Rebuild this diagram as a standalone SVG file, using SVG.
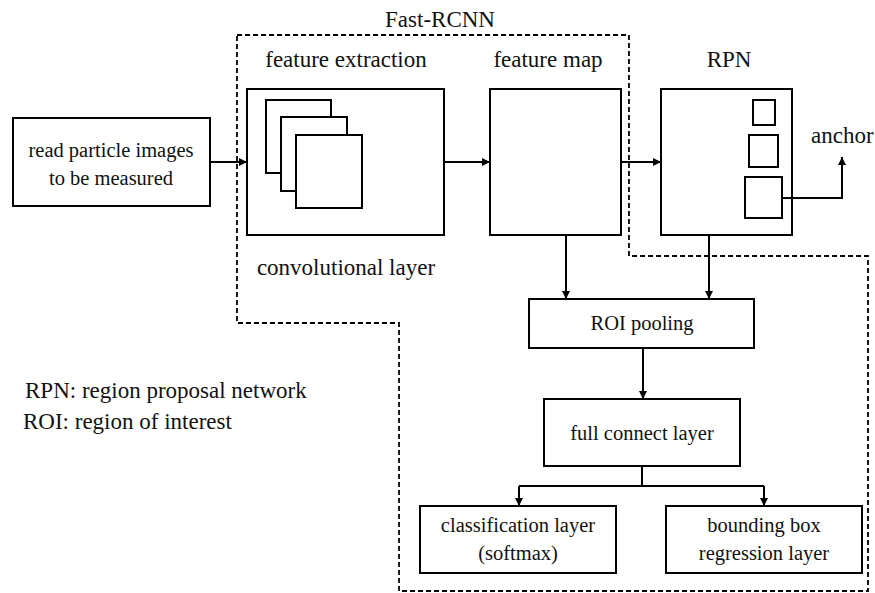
<svg xmlns="http://www.w3.org/2000/svg" width="875" height="593" viewBox="0 0 875 593">
<style>
.box{fill:#fff;stroke:#000;stroke-width:2}
.t{font-family:"Liberation Serif","Times New Roman",serif;font-size:20.5px;fill:#111;text-anchor:middle}
.h{font-family:"Liberation Serif","Times New Roman",serif;font-size:23px;fill:#111}
.c{text-anchor:middle}
.ln{fill:none;stroke:#000;stroke-width:2}
.dash{fill:none;stroke:#000;stroke-width:1.8;stroke-dasharray:5 3}
</style>
<defs>
<marker id="ah" viewBox="0 0 10 10" refX="10" refY="5" markerWidth="9" markerHeight="8" markerUnits="userSpaceOnUse" orient="auto">
<path d="M0,0 L10,5 L0,10 z" fill="#000"/>
</marker>
</defs>
<rect width="875" height="593" fill="#fff"/>
<g id="fast-rcnn">
<path class="dash" d="M237,35 H629 V256 H868 V591 H399 V323 H237 Z"/>
<text class="h c" x="440" y="27">Fast-RCNN</text>
</g>
<g id="input">
<rect class="box" x="13" y="118" width="197" height="88"/>
<text class="t" x="111" y="157">read particle images</text>
<text class="t" x="111" y="185">to be measured</text>
</g>
<g id="feature-extraction">
<text class="h c" x="346" y="67">feature extraction</text>
<rect class="box" x="247" y="89" width="197" height="146"/>
<rect class="box" x="266" y="100" width="65" height="73"/>
<rect class="box" x="281" y="117" width="66" height="74"/>
<rect class="box" x="296" y="135" width="66" height="73"/>
<text class="h c" x="346" y="275">convolutional layer</text>
</g>
<g id="feature-map">
<text class="h c" x="548" y="67">feature map</text>
<rect class="box" x="490" y="89" width="131" height="146"/>
</g>
<g id="rpn">
<text class="h c" x="729" y="67">RPN</text>
<rect class="box" x="661" y="89" width="131" height="146"/>
<rect class="box" x="753" y="100" width="22" height="25"/>
<rect class="box" x="749" y="135" width="29" height="32"/>
<rect class="box" x="745" y="177" width="37" height="41"/>
</g>
<g id="anchor">
<text class="h" x="811" y="143">anchor</text>
</g>
<g id="roi-pooling">
<rect class="box" x="529" y="299" width="225" height="49"/>
<text class="t" x="642" y="330">ROI pooling</text>
</g>
<g id="full-connect">
<rect class="box" x="544" y="399" width="196" height="67"/>
<text class="t" x="642" y="440">full connect layer</text>
</g>
<g id="classification">
<rect class="box" x="420" y="506" width="196" height="67"/>
<text class="t" x="518" y="532">classification layer</text>
<text class="t" x="518" y="560">(softmax)</text>
</g>
<g id="bbox-regression">
<rect class="box" x="666" y="506" width="196" height="67"/>
<text class="t" x="764" y="532">bounding box</text>
<text class="t" x="764" y="560">regression layer</text>
</g>
<g id="legend">
<text class="h" x="25" y="398">RPN: region proposal network</text>
<text class="h" x="23" y="429">ROI: region of interest</text>
</g>
<g id="connectors">
<path class="ln" d="M210,162 H247" marker-end="url(#ah)"/>
<path class="ln" d="M444,162 H490" marker-end="url(#ah)"/>
<path class="ln" d="M621,162 H661" marker-end="url(#ah)"/>
<path class="ln" d="M782,198 H842 V157" marker-end="url(#ah)"/>
<path class="ln" d="M566,235 V299" marker-end="url(#ah)"/>
<path class="ln" d="M709,235 V299" marker-end="url(#ah)"/>
<path class="ln" d="M643,348 V399" marker-end="url(#ah)"/>
<path class="ln" d="M642,466 V486"/>
<path class="ln" d="M519,486 H764"/>
<path class="ln" d="M519,486 V506" marker-end="url(#ah)"/>
<path class="ln" d="M764,486 V506" marker-end="url(#ah)"/>
</g>
</svg>
